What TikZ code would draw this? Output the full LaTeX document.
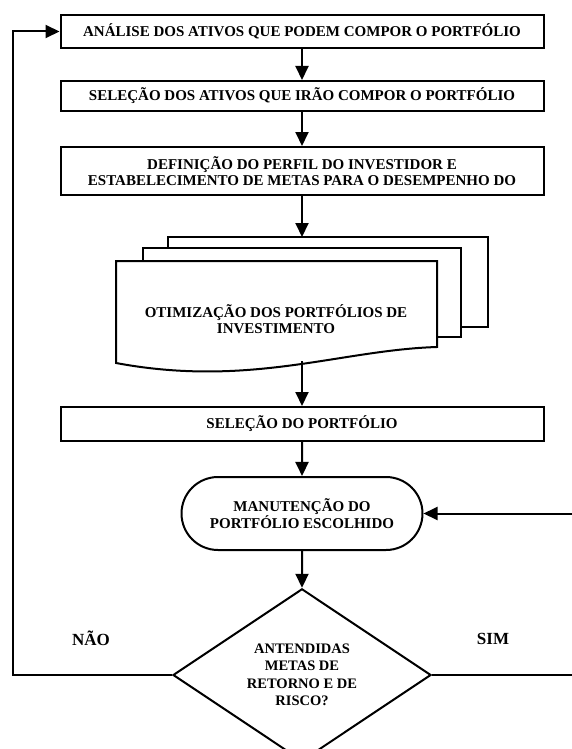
\documentclass[tikz,border=0pt]{standalone}
\usepackage{fontspec}
\setmainfont{Liberation Serif}
\usetikzlibrary{shapes.geometric,shapes.misc,arrows.meta}
\begin{document}
\begin{tikzpicture}[x=1pt,y=-1pt]
	\tikzstyle{Box} = [rectangle, minimum width=483pt, text centered, align=center, draw=black, line width=2pt, inner sep=0pt, font=\bfseries\fontsize{15}{16}\selectfont]
	\tikzstyle{Term} = [rounded rectangle, minimum width=241pt, minimum height=73pt, align=center, draw=black, line width=2pt, inner sep=0pt, font=\bfseries\fontsize{15}{17}\selectfont]
	\tikzstyle{Decide} = [diamond, minimum width=258pt, minimum height=150pt, align=center, draw=black, line width=2pt, inner sep=0pt, font=\bfseries\fontsize{14.5}{17.5}\selectfont]
	\tikzstyle{Label} = [font=\bfseries\fontsize{17}{20}\selectfont]
	\tikzstyle{arrow} = [line width=2pt,-{Triangle[length=14pt,width=13pt]}]
	\useasboundingbox (0,0) rectangle (572,749);
	
	\node (analise) [Box, minimum height=33pt] at (302,31.5) {ANÁLISE DOS ATIVOS QUE PODEM COMPOR O PORTFÓLIO};
	\node (selecao) [Box, minimum height=30pt] at (302,96) {SELEÇÃO DOS ATIVOS QUE IRÃO COMPOR O PORTFÓLIO};
	\node (definicao) [Box, minimum height=48pt] at (302,171) {DEFINIÇÃO DO PERFIL DO INVESTIDOR E\\ESTABELECIMENTO DE METAS PARA O DESEMPENHO DO};
	
	% pilha de documentos
	\draw [line width=2pt] (168,248) -- (168,237) -- (488,237) -- (488,327) -- (461,327);
	\draw [line width=2pt] (143,261) -- (143,248) -- (461,248) -- (461,337) -- (437,337);
	\draw [line width=2pt, fill=white] (116,363) -- (116,261) -- (437,261) -- (437,347)
		.. controls (340,350) and (250,388) .. (116,363) -- cycle;
	\node (otim) [font=\bfseries\fontsize{15}{16}\selectfont, align=center] at (276,319) {OTIMIZAÇÃO DOS PORTFÓLIOS DE\\INVESTIMENTO};
	\coordinate (docTop) at (302,237);
	\coordinate (docBot) at (302,361);
	
	\node (selport) [Box, minimum height=34pt] at (302,424) {SELEÇÃO DO PORTFÓLIO};
	\node (manut) [Term] at (302,513.5) {MANUTENÇÃO DO\\PORTFÓLIO ESCOLHIDO};
	\node (decisao) [Decide] at (302,675) {ANTENDIDAS\\METAS DE\\RETORNO E DE\\RISCO?};
	
	\node (nao) [Label] at (91,638) {NÃO};
	\node (sim) [Label] at (493,639) {SIM};
	
	\draw [arrow] (analise) -- (selecao);
	\draw [arrow] (selecao) -- (definicao);
	\draw [arrow] (definicao) -- (docTop);
	\draw [arrow] (docBot) -- (selport);
	\draw [arrow] (selport) -- (manut);
	\draw [arrow] (manut) -- (decisao);
	
	% retornos
	\coordinate (loopL) at (13,0);
	\coordinate (loopR) at (578,0);
	\draw [arrow] (decisao.west) -| (loopL |- analise.west) -- (analise.west);
	\draw [arrow] (decisao.east) -| (loopR |- manut.east) -- (manut.east);
\end{tikzpicture}
\end{document}
